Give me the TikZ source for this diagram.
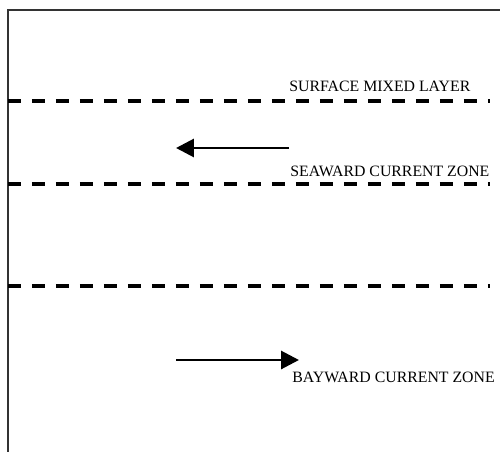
\documentclass[tikz,border=0pt]{standalone}
\usepackage{fontspec}
\setmainfont{Liberation Serif}
\usetikzlibrary{arrows.meta,positioning}

\begin{document}
\begin{tikzpicture}[
  x=0.02cm, y=-0.02cm,
  frame/.style={line width=0.7pt, black!80},
  bound/.style={line width=1.9pt, dash pattern=on 0.27cm off 0.21cm},
  flow/.style={-{Triangle[length=0.36cm,width=0.36cm]}, line width=1.7pt},
  zlbl/.style={font=\fontsize{9}{10}\selectfont, anchor=base west, inner sep=0pt}
]
  \useasboundingbox (0,0) rectangle (500,452);

  % outline of the section
  \coordinate (fbl) at (8,452);
  \coordinate (ftl) at (8,10);
  \coordinate (ftr) at (500,10);
  \draw[frame] (fbl) -- (ftl) -- (ftr);

  % zone boundaries
  \foreach \n/\y in {mix/101, sea/184, bay/286} {
    \coordinate (l\n) at (8,\y);
    \coordinate (r\n) at (490,\y);
    \draw[bound] (l\n) -- (r\n);
  }

  % zone labels
  \node[zlbl] (tmix) at (289,92)  {SURFACE MIXED LAYER};
  \node[zlbl] (tsea) at (290,177) {SEAWARD CURRENT ZONE};
  \node[zlbl] (tbay) at (292,382) {BAYWARD CURRENT ZONE};

  % currents
  \coordinate (sea0) at (289,148);
  \coordinate (sea1) at (176,148);
  \draw[flow] (sea0) -- (sea1);
  \coordinate (bay0) at (176,360);
  \coordinate (bay1) at (299,360);
  \draw[flow] (bay0) -- (bay1);
\end{tikzpicture}
\end{document}
